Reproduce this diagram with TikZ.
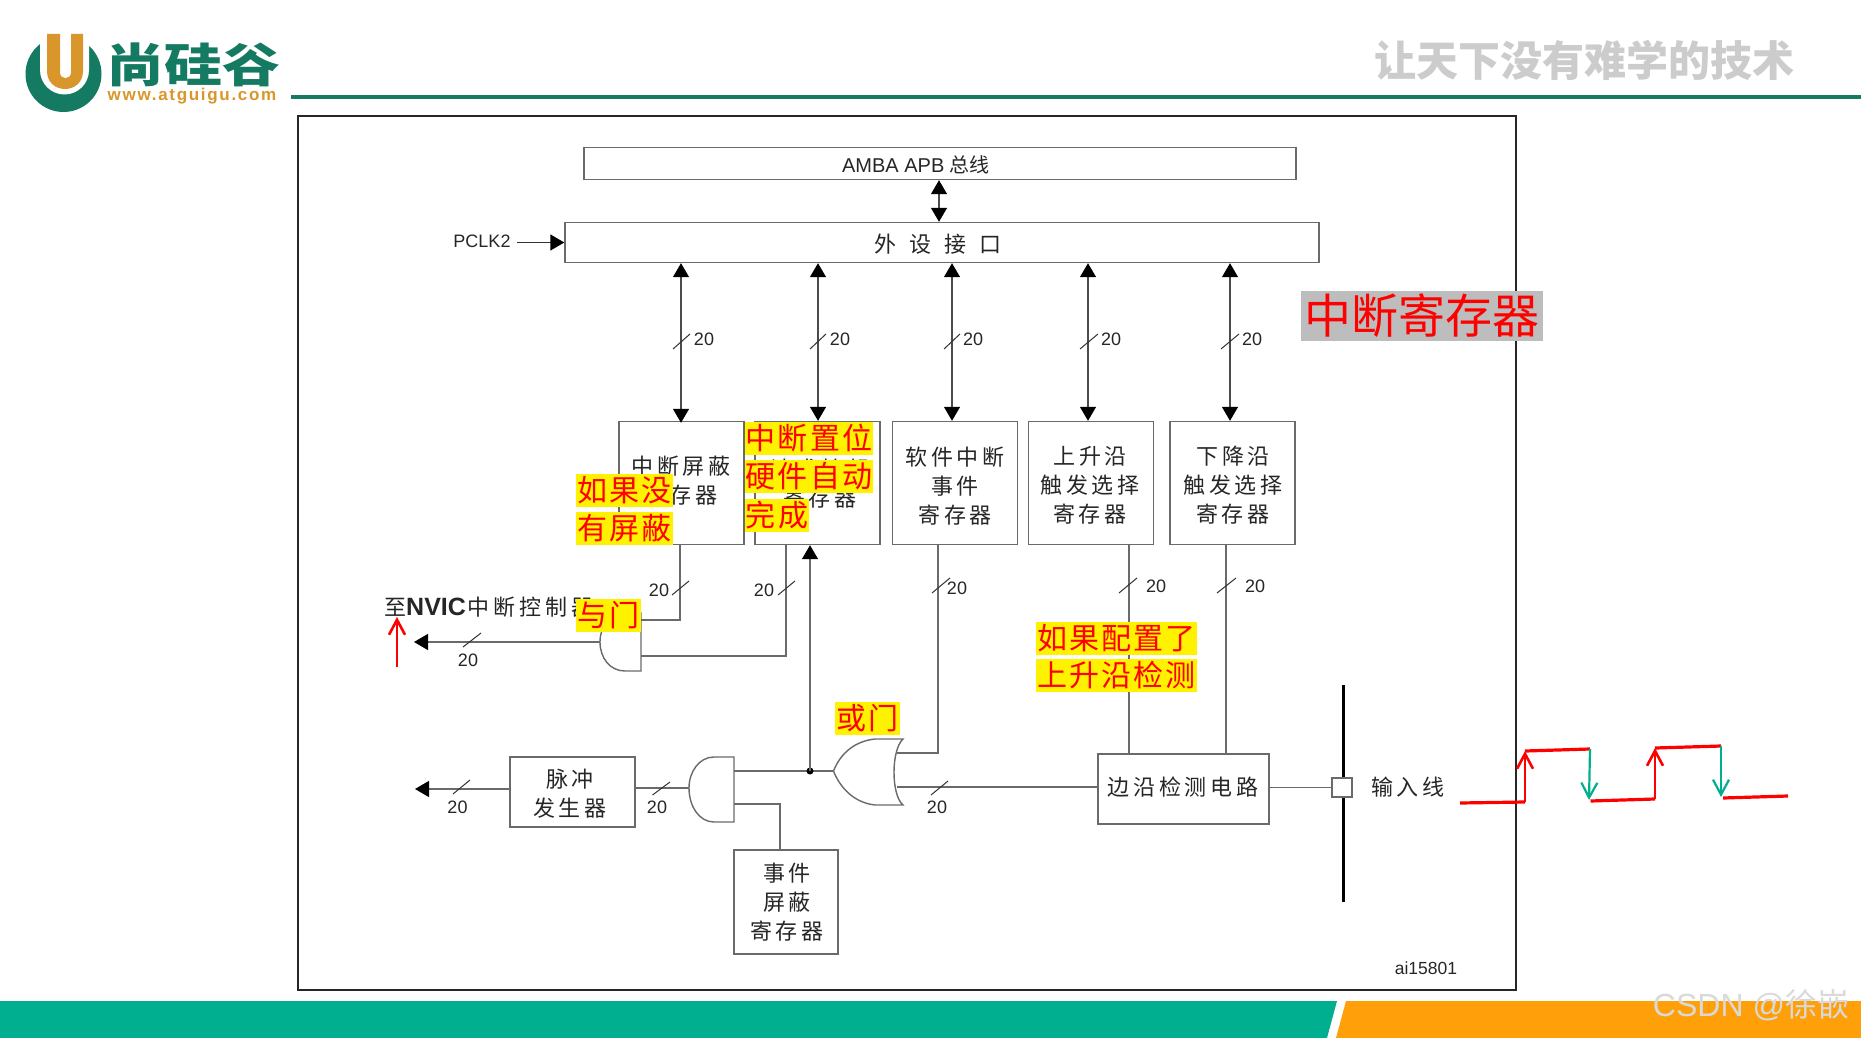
\documentclass[tikz,border=0pt]{standalone}
\usepackage{fontspec}
\usetikzlibrary{arrows.meta}
\setmainfont{Liberation Sans}
\newfontfamily\cjk{Noto Sans CJK SC}
\newfontfamily\cjkb[LetterSpace=18]{Noto Sans CJK SC}
\newfontfamily\cjky[LetterSpace=7]{Noto Sans CJK SC}
\newfontfamily\latinw[LetterSpace=10]{Liberation Sans}
\newcommand{\myfs}[2]{\fontsize{#1}{#2}\selectfont}
\definecolor{wiregray}{HTML}{6A6A6A}
\definecolor{inkdark}{HTML}{262626}
\definecolor{brandgreen}{HTML}{157A62}
\definecolor{brandgold}{HTML}{D9962A}
\definecolor{bandgreen}{HTML}{00AE90}
\definecolor{bandorange}{HTML}{FFA00A}
\definecolor{slogangray}{HTML}{CCCCCC}
\definecolor{labelgray}{HTML}{BDBDBD}
\tikzset{
  regbox/.style={draw=wiregray,line width=1.4pt,fill=white,inner sep=0pt,minimum width=#1},
  wire/.style={draw=wiregray,line width=1.4pt},
  bus/.style={draw=black!70,line width=1.2pt,{Triangle[length=14pt,width=16pt,black]}-{Triangle[length=14pt,width=16pt,black]}},
  outarrow/.style={draw=wiregray,line width=1.4pt,-{Triangle[length=14pt,width=16pt,black]}},
  tick/.style={draw=black!80,line width=1pt},
  num/.style={inner sep=0pt,text=inkdark,font=\myfs{18}{20}},
  boxtext/.style={inner sep=0pt,align=center,text=inkdark,font=\cjkb\myfs{22}{29}},
  hilite/.style={fill=yellow,text=red,inner sep=0pt,minimum height=33pt,font=\cjky\myfs{30}{33}},
  sig/.style={draw=red,line width=3.2pt},
  upsig/.style={draw=red,line width=2.6pt,-{Straight Barb[length=15pt,width=16pt,line width=2.6pt]}},
  downsig/.style={draw=bandgreen,line width=2.2pt,-{Straight Barb[length=15pt,width=16pt,line width=2.2pt]}},
}
\begin{document}
\begin{tikzpicture}[x=1pt,y=-1pt]
\useasboundingbox (0,0) rectangle (1861,1038);
\fill[white] (0,0) rectangle (1861,1038);

% footer bands
\fill[bandgreen] (0,1001) -- (1337,1001) -- (1327,1038) -- (0,1038) -- cycle;
\fill[bandorange] (1346,1001) -- (1861,1001) -- (1861,1038) -- (1336,1038) -- cycle;

% header
\coordinate (ruleL) at (291,97);
\coordinate (ruleR) at (1861,97);
\draw[brandgreen,line width=4pt] (ruleL) -- (ruleR);
\fill[brandgreen] (63.5,74) circle (38);
\fill[white] (40,28) -- (89,28) -- (89,70) arc (0:180:24.5) -- cycle;
\fill[brandgold] (47,34) -- (60,34) -- (60,72.5) .. controls (60,80) and (71,80) .. (71,72.5) -- (71,34) -- (83,34) -- (83,71) .. controls (83,95) and (47,95) .. (47,71) -- cycle;
\node[inner sep=0pt,text=brandgreen,font=\cjk\bfseries\myfs{58}{60}] (logotext) at (193,65) {\scalebox{1}[0.8]{尚硅谷}};
\node[inner sep=0pt,text=brandgold,font=\latinw\bfseries\myfs{17}{20}] (logourl) at (192,96) {www.atguigu.com};
\node[inner sep=0pt,text=slogangray,font=\cjk\bfseries\myfs{42}{44}] (slogan) at (1584,60) {让天下没有难学的技术};

% frame
\draw[black!85,line width=2pt] (298,116) rectangle (1516,990);

% bars
\node[regbox=712pt,minimum height=32pt] (amba) at (940,163.5) {};
\node[inner sep=0pt,text=inkdark,font=\myfs{20}{22}] (ambat) at (916,165) {AMBA APB {\cjk 总线}};
\node[regbox=754pt,minimum height=40pt] (periph) at (942,242.5) {};
\node[inner sep=0pt,text=inkdark,font=\cjk\myfs{22}{24}] (periphh) at (938,244) {外\hspace{13pt}设\hspace{13pt}接\hspace{13pt}口};
\node[inner sep=0pt,text=inkdark,font=\myfs{18}{20}] (pclk) at (482,241) {PCLK2};
\coordinate (pclkend) at (517,242.5);
\draw[outarrow,draw=black!80] (pclkend) -- (periph.west |- pclkend);
\coordinate (busx) at (939,0);
\draw[bus] (amba.south -| busx) -- (periph.north -| busx);

% register boxes
\node[regbox=125pt,minimum height=123pt] (mask) at (681.5,483) {};
\node[regbox=125pt,minimum height=123pt] (pend) at (817.5,483) {};
\node[regbox=125pt,minimum height=123pt] (soft) at (955,483) {};
\node[regbox=125pt,minimum height=123pt] (rise) at (1091,483) {};
\node[regbox=125pt,minimum height=123pt] (fall) at (1232.5,483) {};
\node[boxtext] (maskt) at (681,481) {中断屏蔽\\寄存器};
\node[boxtext] (pendt) at (820,484) {请求挂起\\寄存器};
\node[boxtext] (softt) at (955,486) {软件中断\\事件\\寄存器};
\node[boxtext] (riset) at (1090,485) {上升沿\\触发选择\\寄存器};
\node[boxtext] (fallt) at (1233,485) {下降沿\\触发选择\\寄存器};

% bus arrows
\coordinate (a1) at (681,0);
\coordinate (a2) at (818,0);
\coordinate (a3) at (952,0);
\coordinate (a4) at (1088,0);
\coordinate (a5) at (1230,0);
\draw[bus] (periph.south -| a1) -- ([yshift=-2pt]mask.north -| a1);
\draw[bus] (periph.south -| a2) -- (pend.north -| a2);
\draw[bus] (periph.south -| a3) -- (soft.north -| a3);
\draw[bus] (periph.south -| a4) -- (rise.north -| a4);
\draw[bus] (periph.south -| a5) -- (fall.north -| a5);
\draw[tick] (673,349) -- (690,334);
\draw[tick] (810,349) -- (826,334);
\draw[tick] (944,349) -- (960,334);
\draw[tick] (1080,349) -- (1098,334);
\draw[tick] (1221,349) -- (1239,334);
\node[num] (n1) at (704,339) {20};
\node[num] (n2) at (840,339) {20};
\node[num] (n3) at (973,339) {20};
\node[num] (n4) at (1111,339) {20};
\node[num] (n5) at (1252,339) {20};

% NVIC text
\node[inner sep=0pt,anchor=west,text=inkdark,font=\cjkb\myfs{22}{24}] (nvic) at (384,607) {至{\rmfamily\bfseries\myfs{25}{24}NVIC}\hspace{2pt}中断控制器};

% upper AND gate
\coordinate (g1top) at (641,613);
\coordinate (g1bot) at (641,671);
\coordinate (g1in1) at (641,620);
\coordinate (g1in2) at (641,656);
\coordinate (g1out) at (600,642);
\draw[wire] (g1top) -- (625,613) .. controls (610,613) and (600,626) .. (g1out) .. controls (600,658) and (610,671) .. (625,671) -- (g1bot) -- cycle;
\coordinate (mx) at (680,0);
\coordinate (px) at (786,0);
\draw[wire] (mask.south -| mx) |- (g1in1);
\draw[wire] (pend.south -| px) |- (g1in2);
\coordinate (nvicend) at (414,642);
\draw[outarrow] (g1out) -- (nvicend);
\draw[tick] (463,647) -- (481,633);
\node[num] (n6) at (468,660) {20};
\draw[tick] (672,595) -- (689,581);
\node[num] (n7) at (659,590) {20};
\draw[tick] (778,595) -- (795,581);
\node[num] (n8) at (764,590) {20};

% lower chain
\node[regbox=125pt,minimum height=70pt] (pulse) at (572.5,792) {};
\node[boxtext] (pulset) at (570,793.5) {脉冲\\发生器};
\coordinate (g2top) at (734,757);
\coordinate (g2bot) at (734,822);
\coordinate (g2out) at (689,788);
\coordinate (g2in1) at (734,771);
\coordinate (g2in2) at (734,804);
\draw[wire] (g2top) -- (714,757) .. controls (699,757) and (689,772) .. (g2out) .. controls (689,806) and (699,822) .. (714,822) -- (g2bot) -- cycle;
\coordinate (pulseout) at (415,789);
\draw[outarrow] (pulse.west |- pulseout) -- (pulseout);
\draw[tick] (453,794) -- (470,780);
\node[num] (n9) at (457.5,807) {20};
\draw[wire] (pulse.east |- g2out) -- (g2out);
\draw[tick] (652.5,795) -- (670,782);
\node[num] (n10) at (657,807) {20};
\node[regbox=104pt,minimum height=104pt] (event) at (786,902) {};
\node[boxtext] (eventt) at (787,902) {事件\\屏蔽\\寄存器};
\coordinate (ex) at (780,0);
\draw[wire] (g2in2) -| (event.north -| ex);

% OR gate
\coordinate (ortip) at (833.5,771);
\coordinate (orin1) at (897,753);
\coordinate (orin2) at (897,787);
\draw[wire] (903,739) .. controls (893,739) and (880,739) .. (875,739) .. controls (856,741) and (841,752) .. (ortip) .. controls (841,790) and (856,803) .. (875,805) .. controls (880,805) and (893,805) .. (903,805) .. controls (891,795) and (891,750) .. (903,739) -- cycle;
\draw[wire] (g2in1) -- (ortip);
\coordinate (junction) at (810,771);
\fill[black] (junction) circle (3.5);
\draw[outarrow] (junction) -- (pend.south -| junction);
\coordinate (sx) at (938,0);
\draw[wire] (orin1) -| (soft.south -| sx);
\draw[tick] (932,593) -- (950,578);
\node[num] (n11) at (957,588) {20};

% edge detector
\node[regbox=171pt,minimum height=70pt] (edge) at (1183.5,789) {};
\node[boxtext,font=\cjkb\myfs{22}{24}] (edget) at (1183,787) {边沿检测电路};
\draw[wire] (orin2) -- (edge.west |- orin2);
\draw[tick] (931,795) -- (948,781);
\node[num] (n12) at (937,807) {20};
\coordinate (rx) at (1129,0);
\coordinate (fx) at (1226,0);
\draw[wire] (rise.south -| rx) -- (edge.north -| rx);
\draw[wire] (fall.south -| fx) -- (edge.north -| fx);
\draw[tick] (1119,593) -- (1137,578);
\node[num] (n13) at (1156,586) {20};
\draw[tick] (1217,593) -- (1236,578);
\node[num] (n14) at (1255,586) {20};

% input line
\coordinate (railtop) at (1343,685);
\coordinate (railbot) at (1343,902);
\draw[black,line width=3pt] (railtop) -- (railbot);
\node[draw=wiregray,line width=1.4pt,fill=white,minimum width=20pt,minimum height=19pt,inner sep=0pt] (pin) at (1342,787.5) {};
\draw[wire] (edge.east |- pin) -- (pin.west);
\node[inner sep=0pt,text=inkdark,font=\cjkb\myfs{22}{24}] (inputt) at (1408,787) {输入线};
\node[inner sep=0pt,text=inkdark,font=\myfs{17.5}{20}] (aicode) at (1426,968) {ai15801};

% highlights
\node[hilite,minimum width=97pt] (h1) at (624.5,490.5) {如果没};
\node[hilite,minimum width=97pt] (h2) at (624.5,528.5) {有屏蔽};
\node[hilite,minimum width=128pt] (h3) at (809,438.5) {中断置位};
\node[hilite,minimum width=128pt] (h4) at (809,476.5) {硬件自动};
\node[hilite,minimum width=64pt] (h5) at (777,515.5) {完成};
\node[hilite,minimum width=65pt] (h6) at (608.5,615.5) {与门};
\node[hilite,minimum width=65pt] (h7) at (867.5,718.5) {或门};
\node[hilite,minimum width=161pt] (h8) at (1116.5,638) {如果配置了};
\node[hilite,minimum width=161pt] (h9) at (1116.5,675.5) {上升沿检测};
\node[fill=labelgray,text=red,inner sep=0pt,minimum width=242pt,minimum height=50pt,font=\cjk\myfs{47}{50}] (regs) at (1422,316) {中断寄存器};

% red up arrow beside NVIC
\coordinate (rs) at (397,667);
\coordinate (re) at (397,617);
\draw[upsig] (rs) -- (re);

% signal waveform
\coordinate (w0) at (1460,803);
\coordinate (w1) at (1525,802);
\coordinate (w2) at (1525,751);
\coordinate (w3) at (1590,749);
\coordinate (w4) at (1590.5,801);
\coordinate (w5) at (1655,799);
\coordinate (w6) at (1655,748);
\coordinate (w7) at (1721,746);
\coordinate (w8) at (1723,798);
\coordinate (w9) at (1788,796);
\coordinate (w3b) at (1589,800);
\coordinate (w7b) at (1721,797);
\draw[sig] (w0) -- (w1);
\draw[upsig] (w1) -- (w2);
\draw[sig] (w2) -- (w3);
\draw[downsig] (w3) -- (w3b);
\draw[sig] (w4) -- (w5);
\draw[upsig] (w5) -- (w6);
\draw[sig] (w6) -- (w7);
\draw[downsig] (w7) -- (w7b);
\draw[sig] (w8) -- (w9);

% watermark
\node[inner sep=0pt,text=white!85!black,font=\myfs{32}{36}] (mark) at (1751,1005) {CSDN @{\cjk 徐嵌}};
\end{tikzpicture}
\end{document}
